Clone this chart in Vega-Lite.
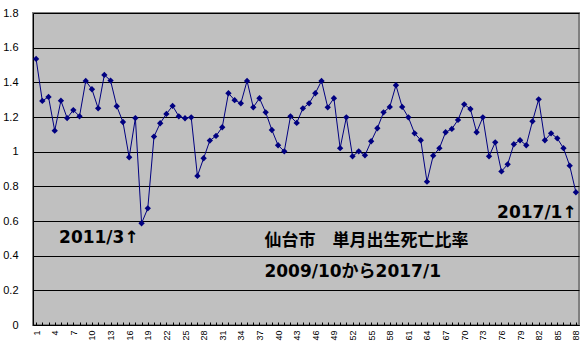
{
  "$schema": "https://vega.github.io/schema/vega-lite/v6.json",
  "width": 546,
  "height": 312,
  "autosize": {"type": "none"},
  "padding": {"left": 33, "top": 13, "right": 7, "bottom": 29},
  "background": "white",
  "config": {
    "view": {"fill": "#C0C0C0", "stroke": "#808080", "strokeWidth": 2}
  },
  "datasets": {
    "ratio": [
      {"n": 1, "v": 1.535}, {"n": 2, "v": 1.293}, {"n": 3, "v": 1.316}, {"n": 4, "v": 1.121},
      {"n": 5, "v": 1.294}, {"n": 6, "v": 1.194}, {"n": 7, "v": 1.24}, {"n": 8, "v": 1.204},
      {"n": 9, "v": 1.408}, {"n": 10, "v": 1.36}, {"n": 11, "v": 1.25}, {"n": 12, "v": 1.443},
      {"n": 13, "v": 1.41}, {"n": 14, "v": 1.262}, {"n": 15, "v": 1.171}, {"n": 16, "v": 0.968},
      {"n": 17, "v": 1.194}, {"n": 18, "v": 0.587}, {"n": 19, "v": 0.673}, {"n": 20, "v": 1.087},
      {"n": 21, "v": 1.164}, {"n": 22, "v": 1.218}, {"n": 23, "v": 1.264}, {"n": 24, "v": 1.204},
      {"n": 25, "v": 1.193}, {"n": 26, "v": 1.198}, {"n": 27, "v": 0.86}, {"n": 28, "v": 0.962},
      {"n": 29, "v": 1.064}, {"n": 30, "v": 1.091}, {"n": 31, "v": 1.141}, {"n": 32, "v": 1.337},
      {"n": 33, "v": 1.297}, {"n": 34, "v": 1.279}, {"n": 35, "v": 1.408}, {"n": 36, "v": 1.256},
      {"n": 37, "v": 1.308}, {"n": 38, "v": 1.227}, {"n": 39, "v": 1.125}, {"n": 40, "v": 1.037},
      {"n": 41, "v": 1.002}, {"n": 42, "v": 1.204}, {"n": 43, "v": 1.166}, {"n": 44, "v": 1.25},
      {"n": 45, "v": 1.279}, {"n": 46, "v": 1.337}, {"n": 47, "v": 1.408}, {"n": 48, "v": 1.256},
      {"n": 49, "v": 1.308}, {"n": 50, "v": 1.02}, {"n": 51, "v": 1.198}, {"n": 52, "v": 0.973},
      {"n": 53, "v": 1.002}, {"n": 54, "v": 0.979}, {"n": 55, "v": 1.06}, {"n": 56, "v": 1.135},
      {"n": 57, "v": 1.227}, {"n": 58, "v": 1.258}, {"n": 59, "v": 1.383}, {"n": 60, "v": 1.258},
      {"n": 61, "v": 1.198}, {"n": 62, "v": 1.106}, {"n": 63, "v": 1.066}, {"n": 64, "v": 0.827},
      {"n": 65, "v": 0.977}, {"n": 66, "v": 1.02}, {"n": 67, "v": 1.112}, {"n": 68, "v": 1.131},
      {"n": 69, "v": 1.183}, {"n": 70, "v": 1.273}, {"n": 71, "v": 1.246}, {"n": 72, "v": 1.112},
      {"n": 73, "v": 1.198}, {"n": 74, "v": 0.973}, {"n": 75, "v": 1.054}, {"n": 76, "v": 0.886},
      {"n": 77, "v": 0.927}, {"n": 78, "v": 1.043}, {"n": 79, "v": 1.066}, {"n": 80, "v": 1.037},
      {"n": 81, "v": 1.175}, {"n": 82, "v": 1.302}, {"n": 83, "v": 1.066}, {"n": 84, "v": 1.106},
      {"n": 85, "v": 1.077}, {"n": 86, "v": 1.02}, {"n": 87, "v": 0.919}, {"n": 88, "v": 0.766}
    ],
    "notes": [
      {"label": "2011/3↑", "n": 4.7, "v": 0.502},
      {"label": "2009/10から2017/1", "n": 37.8, "v": 0.306},
      {"label": "2017/1↑", "n": 75.3, "v": 0.648}
    ],
    "title": [
      {"label": "仙台市　単月出生死亡比率", "n": 37.8, "v": 0.485}
    ]
  },
  "layer": [
    {
      "data": {"name": "ratio"},
      "mark": {"type": "line", "color": "#000080", "strokeWidth": 1},
      "encoding": {
        "x": {
          "field": "n", "type": "quantitative",
          "scale": {"domain": [0.5, 88.5], "nice": false, "zero": false},
          "axis": {
            "title": null,
            "values": [1,2,3,4,5,6,7,8,9,10,11,12,13,14,15,16,17,18,19,20,21,22,23,24,25,26,27,28,29,30,31,32,33,34,35,36,37,38,39,40,41,42,43,44,45,46,47,48,49,50,51,52,53,54,55,56,57,58,59,60,61,62,63,64,65,66,67,68,69,70,71,72,73,74,75,76,77,78,79,80,81,82,83,84,85,86,87,88],
            "tickCount": 200,
            "format": "d",
            "labelExpr": "(datum.value - 1) % 3 == 0 ? datum.label : ''",
            "labelAngle": -90,
            "labelAlign": "right",
            "labelBaseline": "middle",
            "labelFont": "Liberation Sans",
            "labelFontSize": 9,
            "labelColor": "black",
            "labelPadding": 8,
            "labelOverlap": false,
            "labelBound": false,
            "labelFlush": false,
            "tickSize": -3,
            "tickColor": "black",
            "domainColor": "black",
            "domainWidth": 1,
            "grid": false
          }
        },
        "y": {
          "field": "v", "type": "quantitative",
          "scale": {"domain": [0, 1.8], "nice": false, "zero": true},
          "axis": {
            "title": null,
            "values": [0, 0.2, 0.4, 0.6, 0.8, 1, 1.2, 1.4, 1.6, 1.8],
            "tickCount": 200,
            "format": "~g",
            "labelFont": "Liberation Sans",
            "labelFontSize": 11,
            "labelColor": "black",
            "labelPadding": 15,
            "labelOverlap": false,
            "ticks": false,
            "domainColor": "black",
            "domainWidth": 1,
            "grid": true,
            "gridColor": "black",
            "gridWidth": 1,
            "gridOpacity": 1
          }
        }
      }
    },
    {
      "data": {"name": "ratio"},
      "mark": {"type": "point", "shape": "diamond", "filled": true, "color": "#000080", "size": 40, "opacity": 1},
      "encoding": {
        "x": {"field": "n", "type": "quantitative"},
        "y": {"field": "v", "type": "quantitative"}
      }
    },
    {
      "data": {"name": "notes"},
      "mark": {"type": "text", "align": "left", "baseline": "middle", "font": "DejaVu Sans, Noto Sans CJK JP", "fontWeight": "bold", "fontSize": 17, "color": "black"},
      "encoding": {
        "x": {"field": "n", "type": "quantitative"},
        "y": {"field": "v", "type": "quantitative"},
        "text": {"field": "label"}
      }
    },
    {
      "data": {"name": "title"},
      "mark": {"type": "text", "align": "left", "baseline": "middle", "font": "Noto Sans CJK JP", "fontWeight": "bold", "fontSize": 17, "color": "black"},
      "encoding": {
        "x": {"field": "n", "type": "quantitative"},
        "y": {"field": "v", "type": "quantitative"},
        "text": {"field": "label"}
      }
    }
  ]
}
